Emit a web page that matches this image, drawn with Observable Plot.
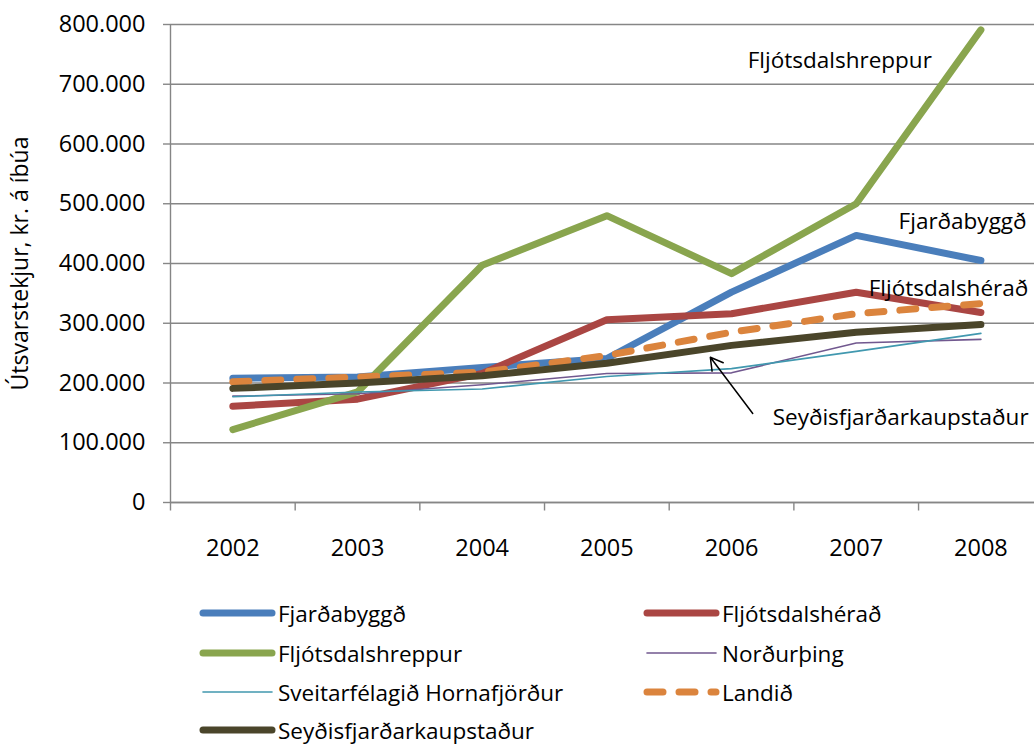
<!DOCTYPE html>
<html>
<head>
<meta charset="utf-8">
<script src="https://cdn.jsdelivr.net/npm/d3@7"></script>
<script src="https://cdn.jsdelivr.net/npm/@observablehq/plot@0.6"></script>
<style>
  body { margin: 0; background: #fff; font-family: "Open Sans", sans-serif; }
  #wrap { width: 1034px; position: relative; }
  #legend { position: relative; width: 1034px; height: 164px; }
  .item { position: absolute; display: flex; align-items: center; font-size: 22.5px; color: #000; height: 30px; white-space: nowrap; }
  .item svg { display: block; margin-right: 2px; }
</style>
</head>
<body>
<div id="wrap">
  <div id="chart"></div>
  <div id="legend"></div>
</div>
<script>
const years = [2002, 2003, 2004, 2005, 2006, 2007, 2008];
const seriesNames = ["Fjarðabyggð", "Fljótsdalshérað", "Fljótsdalshreppur", "Norðurþing", "Sveitarfélagið Hornafjörður", "Landið", "Seyðisfjarðarkaupstaður"];
const fjardabyggd      = [208000, 210000, 226000, 241000, 352000, 447000, 405000];
const fljotsdalsherad  = [161000, 173000, 216000, 306000, 316000, 352000, 318000];
const fljotsdalshreppur= [122000, 185000, 397000, 480000, 383000, 500000, 791000];
const nordurthing      = [178000, 182000, 197000, 216000, 217000, 267000, 273000];
const hornafjordur     = [177000, 185000, 190000, 211000, 224000, 253000, 283000];
const landid           = [202000, 210000, 218000, 246000, 285000, 316000, 333000];
const seydisfjordur    = [191000, 200000, 212000, 233000, 263000, 285000, 298000];
const yTicks = [0, 100000, 200000, 300000, 400000, 500000, 600000, 700000, 800000];
const yLabel = "Útsvarstekjur, kr. á íbúa";

const seriesValues = [fjardabyggd, fljotsdalsherad, fljotsdalshreppur, nordurthing, hornafjordur, landid, seydisfjordur];
const colors = ["#4A7EBB", "#AA4643", "#89A54E", "#71588F", "#4198AF", "#DB843D", "#4A452A"];
const widths = [7, 7, 7, 1.6, 1.6, 7, 7];
const dashes = [null, null, null, null, null, "16,16", null];

const data = [];
seriesNames.forEach((name, i) => years.forEach((yr, j) => data.push({series: name, year: yr, value: seriesValues[i][j]})));

const fmt = d3.formatLocale({thousands: ".", grouping: [3], decimal: ","}).format(",d");
const boundaries = years.map(y => y - 0.5).concat([years[years.length - 1] + 0.5]);

const FONT = "Open Sans";
const FS = 22.5;
const tickDepth = 13400;

const marks = [
  Plot.gridY(yTicks, {stroke: "#868686", strokeOpacity: 1, strokeWidth: 1.4}),
  Plot.axisY(yTicks, {tickFormat: fmt, tickSize: 7, tickPadding: 18, stroke: "#878787", strokeWidth: 1.4, fontSize: 23.5, fill: "#000", label: null}),
  Plot.ruleX([years[0] - 0.5], {stroke: "#858585", strokeWidth: 1.4}),
  Plot.ruleY([0], {stroke: "#868686", strokeWidth: 1.4}),
  Plot.link(boundaries, {x1: d => d, x2: d => d, y1: d => 0, y2: d => -tickDepth, stroke: "#878787", strokeWidth: 1.4}),
  Plot.axisX(years, {tickSize: 0, tickPadding: 37, tickFormat: d => String(d), fontSize: 23.5, fill: "#000", label: null}),
  Plot.text([yLabel], {frameAnchor: "left", rotate: -90, dx: -150, text: d => d, fontSize: 23, textAnchor: "middle", lineAnchor: "middle", fill: "#000"})
];

seriesNames.forEach((name, i) => {
  marks.push(Plot.line(data.filter(d => d.series === name), {
    x: "year", y: "value",
    stroke: colors[i], strokeWidth: widths[i],
    strokeDasharray: dashes[i] || undefined,
    strokeLinecap: "round", strokeLinejoin: "round"
  }));
});

marks.push(
  Plot.text(["Fljótsdalshreppur"], {x: 2006.13, y: 740000, text: d => d, textAnchor: "start", fontSize: FS, fill: "#000"}),
  Plot.text(["Fjarðabyggð"], {x: 2007.34, y: 469000, text: d => d, textAnchor: "start", fontSize: FS, fill: "#000"}),
  Plot.text(["Fljótsdalshérað"], {x: 2007.10, y: 358000, text: d => d, textAnchor: "start", fontSize: FS, fill: "#000"}),
  Plot.text(["Seyðisfjarðarkaupstaður"], {x: 2006.33, y: 142000, text: d => d, textAnchor: "start", fontSize: FS, fill: "#000"}),
  Plot.arrow([0], {x1: 2006.17, y1: 149000, x2: 2005.83, y2: 243000, stroke: "#000", strokeWidth: 1.5, headLength: 14, bend: 0})
);

const chart = Plot.plot({
  width: 1034,
  height: 580,
  marginTop: 24,
  marginBottom: 78,
  marginLeft: 170,
  marginRight: 0,
  style: {fontFamily: FONT, fontSize: "22px", background: "#fff", overflow: "visible"},
  x: {type: "linear", domain: [2001.5, 2008.43], axis: null},
  y: {domain: [0, 800000], axis: null},
  marks
});
document.getElementById("chart").appendChild(chart);

const legend = document.getElementById("legend");
const colX = [199, 643];
const rowY = [33, 73, 112, 150];
seriesNames.forEach((name, i) => {
  const col = i % 2, row = Math.floor(i / 2);
  const div = document.createElement("div");
  div.className = "item";
  div.style.left = colX[col] + "px";
  div.style.top = (rowY[row] - 15) + "px";
  const sw = 77;
  const svg = `<svg width="${sw}" height="12"><line x1="4" y1="6" x2="${sw - 4}" y2="6" stroke="${colors[i]}" stroke-width="${widths[i]}" stroke-linecap="round" ${dashes[i] ? `stroke-dasharray="${dashes[i]}"` : ""}/></svg>`;
  div.innerHTML = svg + `<span>${name}</span>`;
  legend.appendChild(div);
});
</script>
</body>
</html>
